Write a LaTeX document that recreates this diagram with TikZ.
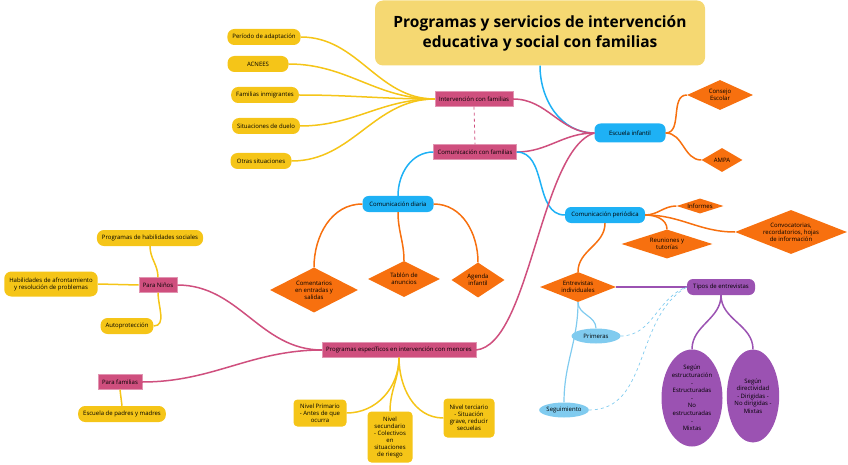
\documentclass[tikz,border=0pt]{standalone}
\usepackage{fontspec}
\setmainfont{Open Sans}
\usetikzlibrary{shapes.geometric}
\definecolor{leafyellow}{HTML}{F5C518}
\definecolor{titleyellow}{HTML}{F5D872}
\definecolor{mappink}{HTML}{CF4F7E}
\definecolor{mapblue}{HTML}{1EB1F5}
\definecolor{maporange}{HTML}{F7700F}
\definecolor{mappurple}{HTML}{9B52B2}
\definecolor{mapsky}{HTML}{80CBEF}
\begin{document}
\begin{tikzpicture}[x=1pt, y=-1pt,
	every node/.style={font=\fontsize{6}{7}\selectfont, align=center, inner sep=1pt},
	leaf/.style={fill=leafyellow, rounded corners=7pt, minimum height=16pt, inner xsep=5pt},
	nivel/.style={fill=leafyellow, rounded corners=4pt, inner sep=2pt},
	pbox/.style={fill=mappink, draw=mappink!60!white, minimum height=15pt, inner xsep=4pt},
	bbox/.style={fill=mapblue, rounded corners=6pt, minimum height=16pt, inner xsep=5pt},
	rhomb/.style={diamond, fill=maporange, aspect=2, inner sep=0pt},
	yline/.style={draw=leafyellow, line width=1.5pt},
	pline/.style={draw=mappink, line width=1.5pt},
	bline/.style={draw=mapblue, line width=1.5pt},
	oline/.style={draw=maporange, line width=1.5pt},
	uline/.style={draw=mappurple, line width=1.5pt},
	sline/.style={draw=mapsky, line width=1.2pt}]
	\useasboundingbox (0,0) rectangle (848,465);

	\node[fill=titleyellow, rounded corners=8pt, minimum width=330pt, minimum height=65pt,
		font=\fontsize{15.5}{20}\selectfont\bfseries] (title) at (540,33)
		{Programas y servicios de intervención\\educativa y social con familias};

	\node[pbox] (int) at (474,99) {Intervención con familias};
	\node[pbox] (com) at (475,152) {Comunicación con familias};
	\node[bbox, minimum width=71pt, minimum height=19pt] (esc) at (630,133) {Escuela infantil};
	\draw[pline, dashed, line width=.8pt] (int.south) -- (com.north);

	\foreach \name/\xx/\yy/\txt in {per/264/37/Período de adaptación, acn/258/64/ACNEES,
		inm/265/95/Familias inmigrantes, due/266/126/Situaciones de duelo, otr/261/161/Otras situaciones}
	{
		\node[leaf, minimum width=61pt] (\name) at (\xx,\yy) {\txt};
		\draw[yline] (\name.east) to[out=0, in=180] (int.west);
	}

	\node[rhomb, minimum width=66pt, minimum height=30pt] (con) at (720,95) {Consejo\\Escolar};
	\node[rhomb, minimum width=41pt, minimum height=24pt] (amp) at (722,160) {AMPA};
	\draw[oline] (esc.east) to[out=0, in=180] (con.west);
	\draw[oline] (esc.east) to[out=0, in=180] (amp.west);

	\draw[bline] (title.south) to[out=-90, in=180] (esc.west);
	\draw[pline] (int.east) to[out=0, in=180] (esc.west);
	\draw[pline] (com.east) to[out=0, in=180] (esc.west);

	\node[bbox, minimum width=71pt] (dia) at (398,204) {Comunicación diaria};
	\node[rhomb, minimum width=88pt, minimum height=45pt] (cme) at (314,290) {Comentarios\\en entradas y\\salidas};
	\node[rhomb, minimum width=72pt, minimum height=36pt] (tab) at (404,279) {Tablón de\\anuncios};
	\node[rhomb, minimum width=53pt, minimum height=35pt] (age) at (478,280) {Agenda\\infantil};
	\draw[bline] (com.west) to[out=180, in=90] (dia.north);
	\draw[oline] (dia.west) to[out=180, in=90] (cme.north);
	\draw[oline] (dia.south) to[out=-90, in=90] (tab.north);
	\draw[oline] (dia.east) to[out=0, in=90] (age.north);

	\node[bbox, minimum width=80pt] (per2) at (605,215) {Comunicación periódica};
	\node[rhomb, minimum width=47pt, minimum height=15pt, aspect=3] (inf) at (700,206) {Informes};
	\node[rhomb, minimum width=91pt, minimum height=29pt, aspect=2.5] (reu) at (667,244) {Reuniones y\\tutorías};
	\node[rhomb, minimum width=112pt, minimum height=44pt, aspect=2.5] (cnv) at (791,232) {Convocatorias,\\recordatorios, hojas\\de información};
	\draw[bline] (com.east) to[out=0, in=180] (per2.west);
	\draw[oline] (per2.east) to[out=0, in=180] (inf.west);
	\draw[oline] (per2.east) to[out=0, in=90] (reu.north);
	\draw[oline] (per2.east) to[out=0, in=180] (cnv.west);

	\node[rhomb, minimum width=76pt, minimum height=30pt, aspect=2.5] (ent) at (578,287) {Entrevistas\\individuales};
	\node[fill=mappurple, rounded corners=6pt, minimum width=68pt, minimum height=16pt] (tip) at (721,287) {Tipos de entrevistas};
	\node[ellipse, fill=mappurple, minimum width=61pt, minimum height=97pt, inner sep=0pt,
		font=\fontsize{6}{7.6}\selectfont] (est) at (692,398)
		{Según\\estructuración\\-\\Estructuradas\\-\\No\\estructuradas\\-\\Mixtas};
	\node[ellipse, fill=mappurple, minimum width=52pt, minimum height=93pt, inner sep=0pt,
		font=\fontsize{6}{7.6}\selectfont] (dir) at (753,396)
		{Según\\directividad\\- Dirigidas -\\No dirigidas -\\Mixtas};
	\node[ellipse, fill=mapsky, minimum width=49pt, minimum height=15pt, inner sep=0pt] (pri) at (596,336) {Primeras};
	\node[ellipse, fill=mapsky, minimum width=44pt, minimum height=15pt, inner sep=0pt] (seg) at (564,410) {Seguimiento};
	\draw[oline] (per2.south) to[out=-90, in=90] (ent.north);
	\draw[uline] (ent.east) to[out=0, in=180] (tip.west);
	\draw[uline] (tip.south) to[out=-90, in=90] (est.north);
	\draw[uline] (tip.south) to[out=-90, in=90] (dir.north);
	\draw[sline] (ent.south) to[out=-90, in=90] (pri.north);
	\draw[sline] (ent.south) to[out=-90, in=90] (seg.north);
	\draw[sline, dashed, line width=.7pt] (pri.east) to[out=0, in=200] (tip.west);
	\draw[sline, dashed, line width=.7pt] (seg.east) to[out=0, in=210] (tip.west);

	\node[pbox] (prg) at (399,350) {Programas específicos en intervención con menores};
	\node[pbox] (nin) at (158,285) {Para Niños};
	\node[pbox] (fam) at (120,382) {Para familias};
	\draw[pline] (prg.east) .. controls (530,345) and (540,150) .. (esc.west);
	\draw[pline] (nin.east) to[out=0, in=180] (prg.west);
	\draw[pline] (fam.east) to[out=0, in=180] (prg.west);

	\node[leaf] (phs) at (150,238) {Programas de habilidades sociales};
	\node[leaf, minimum height=25pt] (haf) at (51,284) {Habilidades de afrontamiento\\y resolución de problemas};
	\node[leaf] (aut) at (127,326) {Autoprotección};
	\node[leaf] (epm) at (122,414) {Escuela de padres y madres};
	\draw[yline] (nin.north) to[out=90, in=-90] (phs.south);
	\draw[yline] (nin.west) -- (haf.east);
	\draw[yline] (nin.south) to[out=-90, in=0] (aut.east);
	\draw[yline] (fam.south) -- (epm.north);

	\node[nivel, minimum width=53pt, minimum height=27pt] (npr) at (320,413) {Nivel Primario\\- Antes de que\\ocurra};
	\node[nivel, minimum width=45pt, minimum height=51pt] (nse) at (390,437) {Nivel\\secundario\\- Colectivos\\en\\situaciones\\de riesgo};
	\node[nivel, minimum width=51pt, minimum height=39pt] (nte) at (469,418) {Nivel terciario\\- Situación\\grave, reducir\\secuelas};
	\draw[yline] (prg.south) to[out=-90, in=0] (npr.east);
	\draw[yline] (prg.south) to[out=-90, in=90] (nse.north);
	\draw[yline] (prg.south) to[out=-90, in=180] (nte.west);
\end{tikzpicture}
\end{document}
